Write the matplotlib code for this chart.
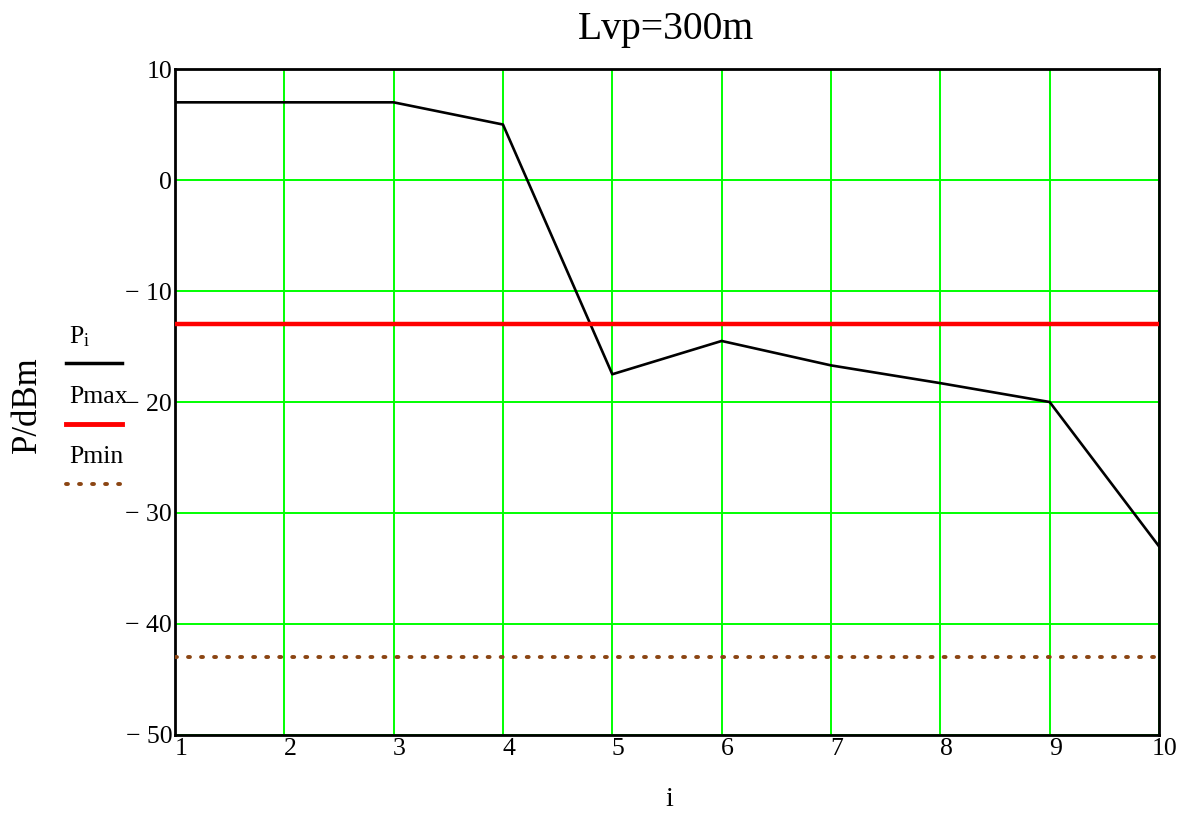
import matplotlib
matplotlib.use("Agg")
import matplotlib.pyplot as plt
from matplotlib.lines import Line2D
from matplotlib.transforms import ScaledTranslation
import numpy as np

plt.rcParams['font.family'] = ['Liberation Serif', 'DejaVu Serif']
plt.rcParams['mathtext.fontset'] = 'custom'
plt.rcParams['mathtext.rm'] = 'Liberation Serif'
plt.rcParams['mathtext.it'] = 'Liberation Serif'

# Power level per section index
i_vals = [1, 2, 3, 4, 5, 6, 7, 8, 9, 10]
p_vals = [7, 7, 7, 5, -17.5, -14.5, -16.7, -18.3, -20, -33]
p_max = -13
p_min = -43

x_ticks = [1, 2, 3, 4, 5, 6, 7, 8, 9, 10]
y_ticks = [10, 0, -10, -20, -30, -40, -50]

fig = plt.figure(figsize=(11.83, 8.17), dpi=100)
ax = fig.add_axes([0.1479, 0.1004, 0.8318, 0.8151])

ax.set_xlim(1, 10)
ax.set_ylim(-50, 10)
ax.set_xticks(x_ticks)
ax.set_yticks(y_ticks)
ax.set_xticklabels([str(v) for v in x_ticks])
ax.set_yticklabels([("\u2212 " + str(-v)) if v < 0 else str(v) for v in y_ticks])
ax.tick_params(length=0, labelsize=18.5, pad=2)
for lbl in ax.get_xticklabels():
    lbl.set_transform(lbl.get_transform() + ScaledTranslation(6 / 100, 0, fig.dpi_scale_trans))

ax.grid(True, color='#00ff00', linewidth=1.4)
ax.set_axisbelow(True)
for s in ax.spines.values():
    s.set_linewidth(2)
    s.set_color('black')

dots = dict(color='#8b4513', linewidth=2.8, linestyle=(0, (0.5, 2.85)),
            dash_capstyle='round')

ax.plot(i_vals, p_vals, color='black', linewidth=1.9, zorder=3)
ax.axhline(p_max, color='#ff0000', linewidth=3.2, zorder=3)
ax.axhline(p_min, zorder=3, **dots)

fig.text(0.563, 1 - 30 / 817, 'Lvp=300m', ha='center', va='center', fontsize=28.5)
fig.text(0.566, 1 - 800 / 817, 'i', ha='center', va='center', fontsize=20)
fig.text(27 / 1183, 1 - 405 / 817, 'P/dBm', ha='center', va='center',
         rotation=90, fontsize=25)

# Series key on the left
W, H = 1183, 817
keys = [
    (r'$\mathregular{P_i}$', 337, 363, dict(color='black', linewidth=2.5)),
    ('Pmax', 397, 424, dict(color='#ff0000', linewidth=3.5)),
    ('Pmin', 457, 484, dots),
]
for label, ty, ly, style in keys:
    fig.text(69 / W, 1 - ty / H, label, ha='left', va='center', fontsize=18.5)
    fig.add_artist(Line2D([66 / W, 122 / W], [1 - ly / H, 1 - ly / H],
                          transform=fig.transFigure, **style))

fig.savefig('out.png', dpi=100, facecolor='white')
